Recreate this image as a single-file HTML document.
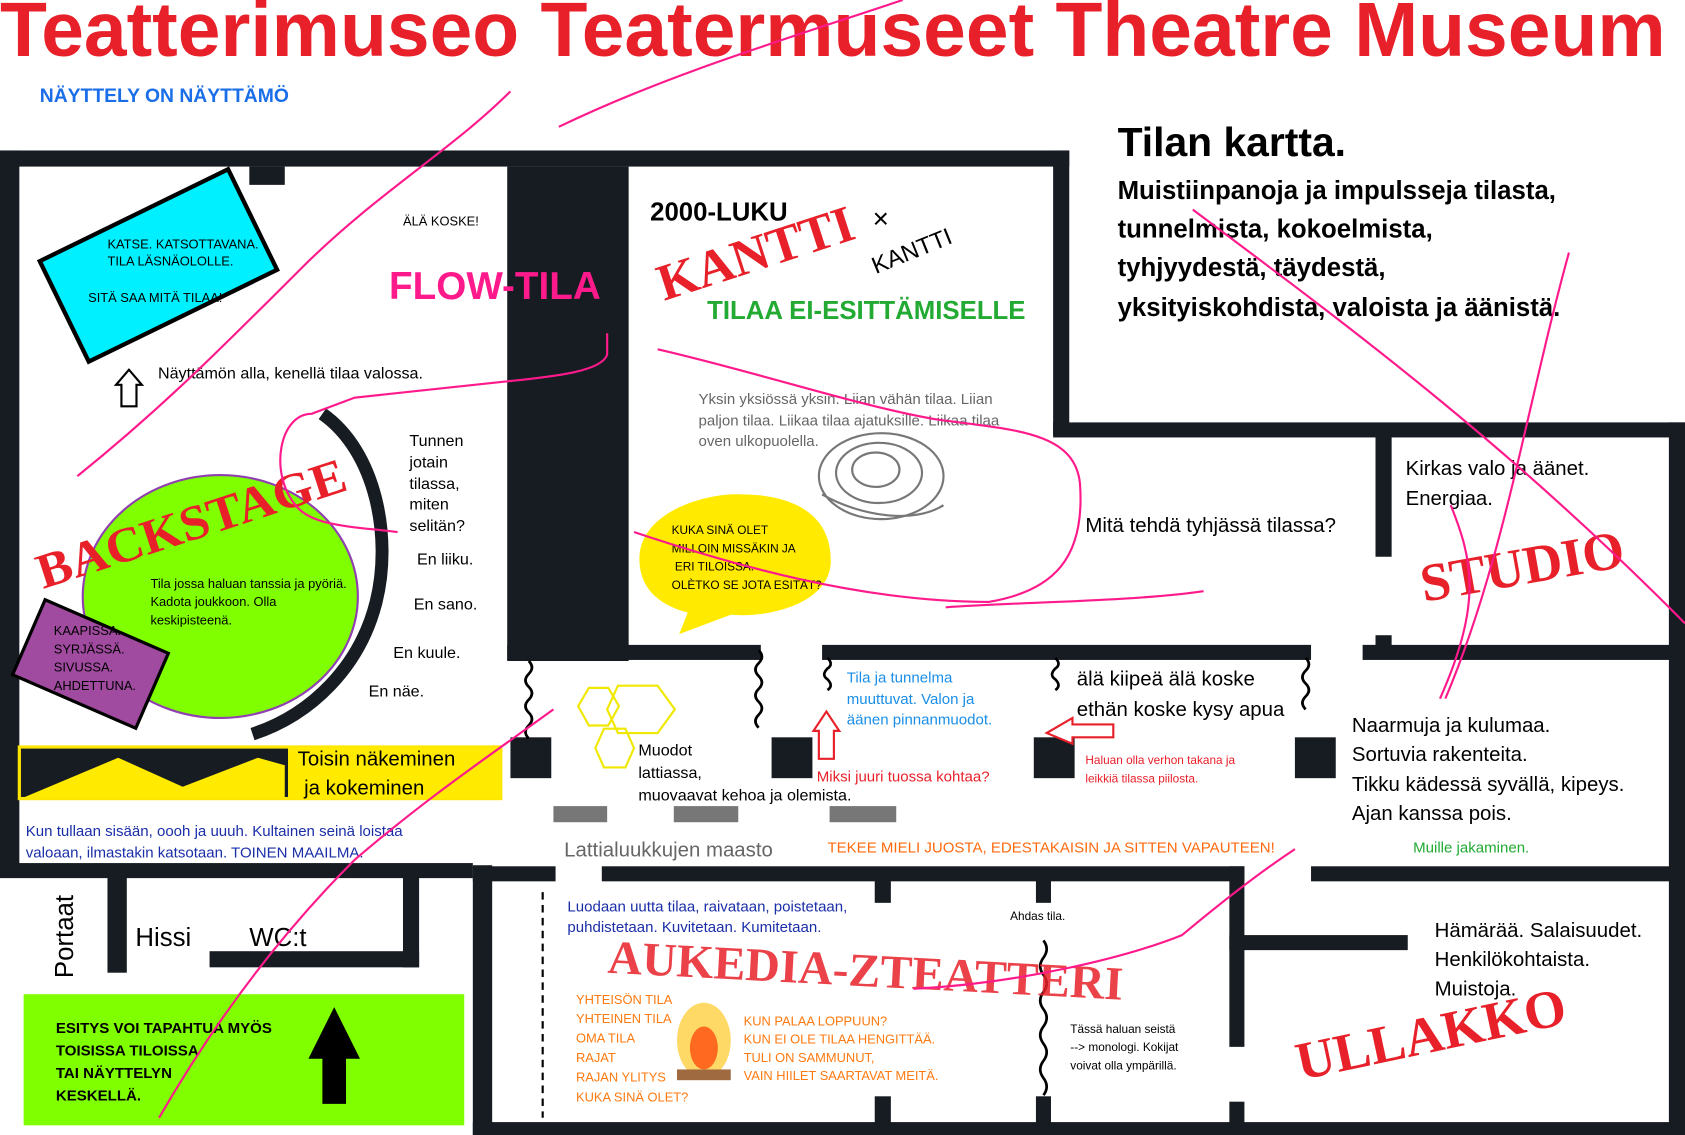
<!DOCTYPE html>
<html><head><meta charset="utf-8"><style>
html,body{margin:0;padding:0;background:#fff;}
svg{display:block;}
text{font-family:"Liberation Sans",sans-serif;}
.serif{font-family:"Liberation Serif",serif;font-weight:bold;}
</style></head><body>
<svg width="1685" height="1135" viewBox="0 0 1568 1056" preserveAspectRatio="none" xmlns="http://www.w3.org/2000/svg">
<rect width="1568" height="1056" fill="#fff"/>
<text x="0" y="52" font-size="72" fill="#e8202a" font-weight="bold" textLength="1550" lengthAdjust="spacingAndGlyphs">Teatterimuseo Teatermuseet Theatre Museum</text>
<text x="37" y="95" font-size="18" fill="#1a6ee8" font-weight="bold">NÄYTTELY ON NÄYTTÄMÖ</text>

<g fill="#161c22">
<rect x="0" y="140" width="995" height="15"/>
<rect x="0" y="140" width="18" height="675"/>
<rect x="232" y="155" width="33" height="17"/>
<rect x="472" y="155" width="113" height="460"/>
<rect x="980" y="140" width="15" height="265"/>
<rect x="980" y="393" width="588" height="14"/>
<rect x="1553" y="393" width="15" height="663"/>
<rect x="1280" y="405" width="15" height="113"/>
<rect x="1280" y="591" width="15" height="22"/>
<rect x="472" y="600" width="236" height="14"/>
<rect x="765" y="600" width="455" height="14"/>
<rect x="1268" y="600" width="300" height="14"/>
<rect x="475" y="686" width="38" height="38"/>
<rect x="718" y="686" width="38" height="38"/>
<rect x="962" y="686" width="38" height="38"/>
<rect x="1205" y="686" width="38" height="38"/>
<rect x="0" y="803" width="440" height="14"/>
<rect x="440" y="805" width="18" height="251"/>
<rect x="440" y="806" width="77" height="14"/>
<rect x="560" y="806" width="598" height="14"/>
<rect x="1220" y="806" width="348" height="14"/>
<rect x="100" y="805" width="18" height="100"/>
<rect x="195" y="885" width="195" height="15"/>
<rect x="375" y="815" width="15" height="85"/>
<rect x="440" y="1044" width="1128" height="12"/>
<rect x="1144" y="806" width="14" height="168"/>
<rect x="1144" y="1025" width="14" height="31"/>
<rect x="1144" y="870" width="166" height="14"/>
<rect x="814" y="818" width="15" height="22"/>
<rect x="964" y="818" width="14" height="22"/>
<rect x="814" y="1020" width="15" height="26"/>
<rect x="964" y="1020" width="14" height="26"/>
<rect x="18" y="695" width="250" height="48"/>
<rect x="265" y="695" width="15" height="30"/>
</g>
<rect x="18" y="695" width="448" height="48" fill="none" stroke="#ffe600" stroke-width="3"/>
<rect x="268" y="695" width="198" height="48" fill="#ffea00"/>
<polygon points="22,742 110,705 170,732 240,705 265,712 265,742" fill="#ffea00"/>

<!-- room 1 items -->
<rect x="37" y="243" width="195" height="104" fill="#00f0ff" stroke="#000" stroke-width="4" transform="rotate(-26 37 243)"/>
<text x="100" y="231" font-size="12">KATSE. KATSOTTAVANA.</text>
<text x="100" y="247" font-size="12">TILA LÄSNÄOLOLLE.</text>
<text x="82" y="281" font-size="12">SITÄ SAA MITÄ TILAA!</text>
<text x="375" y="210" font-size="12">ÄLÄ KOSKE!</text>
<text x="362" y="278" font-size="36" font-weight="bold" fill="#ff1a8c">FLOW-TILA</text>
<path d="M113,378 L113,358 L108,358 L120,344 L132,358 L127,358 L127,378 Z" fill="#fff" stroke="#000" stroke-width="2"/>
<text x="147" y="352" font-size="15">Näyttämön alla, kenellä tilaa valossa.</text>
<path d="M300,385 C350,420 365,500 350,560 C335,620 290,665 235,683" fill="none" stroke="#161c22" stroke-width="12"/>
<ellipse cx="205" cy="555" rx="128" ry="113" fill="#80ff00" stroke="#9040b0" stroke-width="2"/>
<text x="40" y="548" font-size="46" fill="#e8202a" class="serif" transform="rotate(-18 40 548)" textLength="300" lengthAdjust="spacingAndGlyphs">BACKSTAGE</text>
<text x="140" y="547" font-size="12">Tila jossa haluan tanssia ja pyöriä.</text>
<text x="140" y="564" font-size="12">Kadota joukkoon. Olla</text>
<text x="140" y="581" font-size="12">keskipisteenä.</text>
<rect x="42" y="558" width="125" height="76" fill="#a04aa0" stroke="#000" stroke-width="3" transform="rotate(23.5 42 558)"/>
<text x="50" y="591" font-size="12">KAAPISSA.</text>
<text x="50" y="608" font-size="12">SYRJÄSSÄ.</text>
<text x="50" y="625" font-size="12">SIVUSSA.</text>
<text x="50" y="642" font-size="12">AHDETTUNA.</text>
<g font-size="15"><text x="381" y="415">Tunnen</text><text x="381" y="435">jotain</text><text x="381" y="455">tilassa,</text><text x="381" y="474">miten</text><text x="381" y="494">selitän?</text>
<text x="388" y="525">En liiku.</text><text x="385" y="567">En sano.</text><text x="366" y="612">En kuule.</text><text x="343" y="648">En näe.</text></g>
<text x="277" y="712" font-size="19">Toisin näkeminen</text>
<text x="283" y="739" font-size="19">ja kokeminen</text>
<text x="24" y="778" font-size="14" fill="#1a2ea8">Kun tullaan sisään, oooh ja uuuh. Kultainen seinä loistaa</text>
<text x="24" y="798" font-size="14" fill="#1a2ea8">valoaan, ilmastakin katsotaan. TOINEN MAAILMA.</text>

<!-- room 2 -->
<text x="605" y="205" font-size="24" font-weight="bold">2000-LUKU</text>
<text x="618" y="280" font-size="48" fill="#e8202a" class="serif" transform="rotate(-18 618 280)">KANTTI</text>
<text x="812" y="212" font-size="26">×</text>
<text x="815" y="255" font-size="22" transform="rotate(-22 815 255)">KANTTI</text>
<text x="658" y="297" font-size="24" fill="#22aa33" font-weight="bold">TILAA EI-ESITTÄMISELLE</text>
<g font-size="14" fill="#666"><text x="650" y="376">Yksin yksiössä yksin. Liian vähän tilaa. Liian</text><text x="650" y="396">paljon tilaa. Liikaa tilaa ajatuksille. Liikaa tilaa</text><text x="650" y="415">oven ulkopuolella.</text></g>
<g fill="none" stroke="#777" stroke-width="2"><ellipse cx="820" cy="443" rx="58" ry="40"/><ellipse cx="818" cy="440" rx="40" ry="28"/><ellipse cx="815" cy="437" rx="22" ry="16"/><path d="M765,460 C800,480 850,488 878,470"/></g>
<path d="M595,520 C595,475 660,458 690,460 C740,460 775,480 773,525 C770,560 720,575 680,572 L632,590 L640,570 C610,562 595,545 595,520Z" fill="#ffea00"/>
<g font-size="11"><text x="625" y="497">KUKA SINÄ OLET</text><text x="625" y="514">MILLOIN MISSÄKIN JA</text><text x="628" y="531">ERI TILOISSA.</text><text x="625" y="548">OLÈTKO SE JOTA ESITÄT?</text></g>

<!-- right text -->
<text x="1040" y="145" font-size="38" font-weight="bold">Tilan kartta.</text>
<g font-size="24" font-weight="bold"><text x="1040" y="185">Muistiinpanoja ja impulsseja tilasta,</text><text x="1040" y="221">tunnelmista, kokoelmista,</text><text x="1040" y="257">tyhjyydestä, täydestä,</text><text x="1040" y="294">yksityiskohdista, valoista ja äänistä.</text></g>
<text x="1010" y="495" font-size="19">Mitä tehdä tyhjässä tilassa?</text>
<text x="1308" y="442" font-size="19">Kirkas valo ja äänet.</text>
<text x="1308" y="470" font-size="19">Energiaa.</text>
<text x="1325" y="560" font-size="50" fill="#e8202a" class="serif" transform="rotate(-10 1325 560)">STUDIO</text>
<g font-size="19"><text x="1258" y="681">Naarmuja ja kulumaa.</text><text x="1258" y="708">Sortuvia rakenteita.</text><text x="1258" y="736">Tikku kädessä syvällä, kipeys.</text><text x="1258" y="763">Ajan kanssa pois.</text></g>
<text x="1315" y="793" font-size="14" fill="#22aa33">Muille jakaminen.</text>

<!-- middle corridor -->
<g fill="none" stroke="#000" stroke-width="2.5">
<path d="M492,615 q6,6 0,12 q-6,6 0,12 q6,6 0,12 q-6,6 0,12 q6,6 0,12 q-6,6 0,12"/>
<path d="M706,605 q6,6 0,12 q-6,6 0,12 q6,6 0,12 q-6,6 0,12 q6,6 0,12 q-6,6 0,12"/>
<path d="M770,612 q6,6 0,10 q-6,6 0,10 q6,6 0,10"/>
<path d="M982,612 q6,6 0,10 q-6,6 0,10 q6,6 0,10"/>
<path d="M1215,612 q6,6 0,12 q-6,6 0,12 q6,6 0,12 q-6,6 0,12"/>
<path d="M971,875 q6,8 0,16 q-6,8 0,16 q6,8 0,16 q-6,8 0,16 q6,8 0,16 q-6,8 0,16 q6,8 0,16 q-6,8 0,16 q6,8 0,16"/>
</g>
<g fill="none" stroke="#f0e800" stroke-width="2"><polygon points="548,640 566,640 576,657 566,675 548,675 538,657"/><polygon points="575,638 612,638 628,660 612,682 575,682 565,660"/><polygon points="562,678 582,678 590,696 582,714 562,714 554,696"/></g>
<text x="594" y="703" font-size="15">Muodot</text><text x="594" y="724" font-size="15">lattiassa,</text><text x="594" y="745" font-size="15">muovaavat kehoa ja olemista.</text>
<rect x="515" y="750" width="50" height="15" fill="#777"/><rect x="627" y="750" width="60" height="15" fill="#777"/><rect x="772" y="750" width="62" height="15" fill="#777"/>
<text x="525" y="797" font-size="19" fill="#666">Lattialuukkujen maasto</text>
<g font-size="14" fill="#1a8ee8"><text x="788" y="635">Tila ja tunnelma</text><text x="788" y="655">muuttuvat. Valon ja</text><text x="788" y="674">äänen pinnanmuodot.</text></g>
<path d="M762,706 L762,680 L757,680 L769,662 L781,680 L776,680 L776,706Z" fill="#fff" stroke="#e8202a" stroke-width="2"/>
<path d="M1036,674 L998,674 L998,668 L974,682 L998,692 L998,686 L1036,686Z" fill="#fff" stroke="#e8202a" stroke-width="2"/>
<text x="760" y="727" font-size="14" fill="#e8202a">Miksi juuri tuossa kohtaa?</text>
<text x="1002" y="638" font-size="19">älä kiipeä älä koske</text>
<text x="1002" y="666" font-size="19">ethän koske kysy apua</text>
<text x="1010" y="711" font-size="11" fill="#e8202a">Haluan olla verhon takana ja</text>
<text x="1010" y="728" font-size="11" fill="#e8202a">leikkiä tilassa piilosta.</text>
<text x="770" y="793" font-size="14" fill="#ff6a10">TEKEE MIELI JUOSTA, EDESTAKAISIN JA SITTEN VAPAUTEEN!</text>

<!-- bottom left -->
<text x="68" y="910" font-size="24" transform="rotate(-90 68 910)">Portaat</text>
<text x="126" y="880" font-size="24">Hissi</text>
<text x="232" y="880" font-size="24">WC:t</text>
<rect x="22" y="925" width="410" height="122" fill="#80ff00"/>
<g font-size="14" font-weight="bold"><text x="52" y="961">ESITYS VOI TAPAHTUA MYÖS</text><text x="52" y="982">TOISISSA TILOISSA</text><text x="52" y="1003">TAI NÄYTTELYN</text><text x="52" y="1024">KESKELLÄ.</text></g>
<polygon points="300,1027 322,1027 322,985 335,985 311,937 287,985 300,985" fill="#000"/>

<!-- bottom middle -->
<line x1="505" y1="830" x2="505" y2="1040" stroke="#000" stroke-width="2" stroke-dasharray="7,5"/>
<text x="528" y="848" font-size="14" fill="#1a2ea8">Luodaan uutta tilaa, raivataan, poistetaan,</text>
<text x="528" y="867" font-size="14" fill="#1a2ea8">puhdistetaan. Kuvitetaan. Kumitetaan.</text>
<text x="565" y="905" font-size="44" fill="#e8202a" opacity="0.85" class="serif" transform="rotate(3 565 905)" textLength="480" lengthAdjust="spacingAndGlyphs">AUKEDIA-ZTEATTERI</text>
<text x="940" y="856" font-size="11">Ahdas tila.</text>
<g font-size="12" fill="#ff7a10"><text x="536" y="934">YHTEISÖN TILA</text><text x="536" y="952">YHTEINEN TILA</text><text x="536" y="970">OMA TILA</text><text x="536" y="988">RAJAT</text><text x="536" y="1006">RAJAN YLITYS</text><text x="536" y="1025">KUKA SINÄ OLET?</text>
<text x="692" y="954">KUN PALAA LOPPUUN?</text><text x="692" y="971">KUN EI OLE TILAA HENGITTÄÄ.</text><text x="692" y="988">TULI ON SAMMUNUT,</text><text x="692" y="1005">VAIN HIILET SAARTAVAT MEITÄ.</text></g>
<ellipse cx="655" cy="968" rx="25" ry="35" fill="#ffd040" opacity="0.8"/><ellipse cx="655" cy="975" rx="13" ry="20" fill="#ff6a20"/><rect x="630" y="995" width="50" height="10" fill="#a06a40"/>
<g font-size="11"><text x="996" y="961">Tässä haluan seistä</text><text x="996" y="978">--&gt; monologi. Kokijat</text><text x="996" y="995">voivat olla ympärillä.</text></g>
<g font-size="19"><text x="1335" y="872">Hämärää. Salaisuudet.</text><text x="1335" y="899">Henkilökohtaista.</text><text x="1335" y="926">Muistoja.</text></g>
<text x="1210" y="1005" font-size="50" fill="#e8202a" class="serif" transform="rotate(-12 1210 1005)">ULLAKKO</text>

<!-- pink scribbles -->
<g fill="none" stroke="#ff1a8c" stroke-width="2">
<path d="M72,443 C150,380 200,330 280,250 C350,180 420,140 475,85"/>
<path d="M520,118 C620,70 720,40 840,0"/>
<path d="M565,310 L565,330 C560,345 520,350 470,355 L330,370 L290,385 C260,385 250,440 275,470 C290,490 330,490 370,495"/>
<path d="M612,325 C700,345 800,378 870,390 C940,400 1000,400 1005,450 C1010,520 980,550 920,560 C800,560 680,525 590,495"/>
<path d="M880,565 C950,560 1050,560 1120,550"/>
<path d="M1110,195 C1250,300 1400,410 1568,580"/>
<path d="M1460,235 C1420,380 1400,520 1345,650"/>
<path d="M1350,470 C1370,520 1380,560 1340,650"/>
<path d="M148,1040 C200,950 260,870 330,800 C400,740 460,700 515,660"/>
<path d="M850,920 C950,915 1050,890 1100,870 C1160,820 1190,800 1205,790"/>
</g>
</svg>
</body></html>
